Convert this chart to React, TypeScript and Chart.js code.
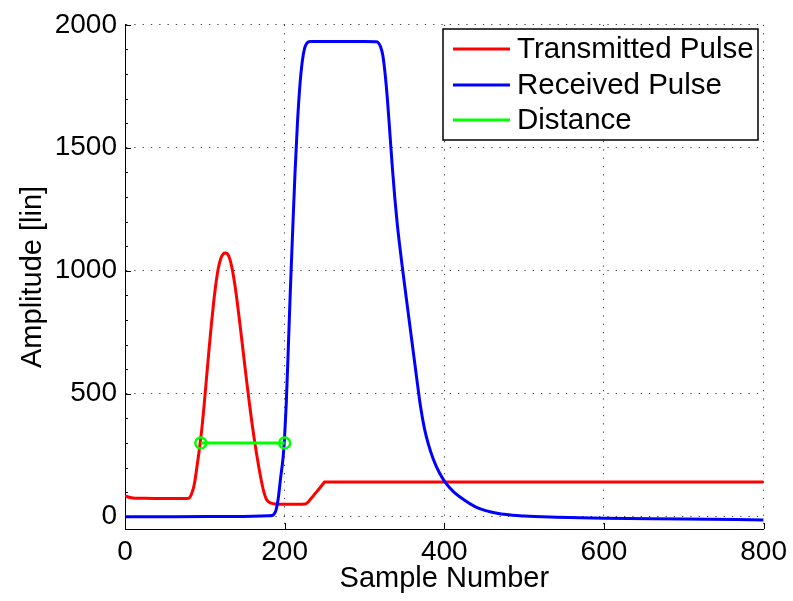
import React, { useEffect, useRef } from "react";
import { Chart, registerables } from "chart.js";

Chart.register(...registerables);

// Transmitted pulse (red)
const txSamples = [0, 4, 10, 20, 40, 60, 78, 80, 84, 87, 90, 93, 96, 99, 102, 105, 108, 111, 114, 117, 120, 123, 126, 129, 132, 135, 138, 141, 144, 147, 150, 153, 156, 159, 162, 165, 168, 171, 174, 177, 180, 184, 188, 200, 215, 226, 229, 232, 240, 246, 249, 250, 300, 400, 500, 600, 700, 800];
const txAmplitude = [86, 80, 76, 75, 74, 74, 74, 75, 98, 135, 200, 270, 350, 450, 560, 670, 775, 870, 950, 1012, 1050, 1068, 1072, 1066, 1040, 995, 935, 862, 782, 700, 617, 535, 456, 382, 314, 252, 195, 143, 100, 72, 60, 54, 52, 51, 51, 52, 58, 70, 101, 125, 137, 141, 141, 141, 141, 141, 141, 141];

// Received pulse (blue)
const rxSamples = [0, 60, 120, 160, 180, 184, 186, 189, 192, 195, 198, 200, 202, 204.5, 207, 210, 213, 216, 219, 222, 225, 228, 232, 260, 300, 314, 317, 320, 323, 326, 329, 332, 335, 338, 341, 344, 347, 350, 354, 358, 362, 366, 370, 375, 380, 386, 393, 401, 412, 425, 441, 466, 500, 541, 600, 700, 800];
const rxAmplitude = [0, 0, 1, 2, 4, 5, 8, 25, 75, 160, 240, 330, 460, 680, 910, 1160, 1400, 1600, 1750, 1850, 1905, 1926, 1932, 1932, 1932, 1931, 1928, 1912, 1875, 1795, 1685, 1550, 1415, 1295, 1192, 1105, 1025, 948, 848, 748, 648, 548, 452, 360, 295, 236, 184, 141, 100, 68, 37, 14, 3, -2, -6, -9, -13];

// Distance marker (green)
const distSamples = [95, 200];
const distAmplitude = [300, 300];

const seriesLabels = ["Transmitted Pulse", "Received Pulse", "Distance"];
const seriesColors = ["#ff0000", "#0000ff", "#00ff00"];

const xTickValues = [0, 200, 400, 600, 800];
const yTickValues = [0, 500, 1000, 1500, 2000];
const yMinorStep = 100;
const xRange = [0, 800];
const yRange = [-50, 2000];

const FONT = '"Liberation Sans", Arial, Helvetica, sans-serif';

const toPoints = (xs: number[], ys: number[]) => xs.map((x, i) => ({ x, y: ys[i] }));

// Inward tick marks on the left/bottom axes plus a boxed legend in the upper right
const axesAndLegend = {
  id: "axesAndLegend",
  afterDraw(chart: any) {
    const { ctx, chartArea, scales } = chart;
    const xs = scales.x;
    const ys = scales.y;
    ctx.save();
    ctx.strokeStyle = "#000";
    ctx.lineWidth = 1;
    ctx.beginPath();
    for (const v of xTickValues) {
      const px = Math.round(xs.getPixelForValue(v)) + 0.5;
      ctx.moveTo(px, chartArea.bottom);
      ctx.lineTo(px, chartArea.bottom - 6);
    }
    for (let v = 0; v <= yRange[1]; v += yMinorStep) {
      const major = yTickValues.includes(v);
      const py = Math.round(ys.getPixelForValue(v)) + 0.5;
      ctx.moveTo(chartArea.left, py);
      ctx.lineTo(chartArea.left + (major ? 6 : 3), py);
    }
    ctx.stroke();

    // legend
    const box = { left: 443, top: 29, right: 758, bottom: 140 };
    const rows = [49, 85, 120];
    ctx.fillStyle = "#fff";
    ctx.fillRect(box.left, box.top, box.right - box.left, box.bottom - box.top);
    ctx.lineWidth = 1.5;
    ctx.strokeStyle = "#000";
    ctx.strokeRect(box.left, box.top, box.right - box.left, box.bottom - box.top);
    ctx.font = `29.5px ${FONT}`;
    ctx.textBaseline = "middle";
    ctx.textAlign = "left";
    chart.data.datasets.forEach((ds: any, i: number) => {
      const y = rows[i];
      ctx.strokeStyle = ds.borderColor;
      ctx.lineWidth = 3;
      ctx.beginPath();
      ctx.moveTo(453, y);
      ctx.lineTo(510, y);
      ctx.stroke();
      ctx.fillStyle = "#000";
      ctx.fillText(ds.label, 517, y + 1);
    });
    ctx.restore();
  },
};

export default function App() {
  const canvasRef = useRef<HTMLCanvasElement | null>(null);

  useEffect(() => {
    if (!canvasRef.current) return;
    const gridStyle = {
      color: "#444",
      lineWidth: 1,
      drawTicks: false,
    };
    const plainLabel = (v: any) => String(v);
    const chart = new Chart(canvasRef.current, {
      type: "line",
      data: {
        datasets: [
          {
            label: seriesLabels[0],
            data: toPoints(txSamples, txAmplitude),
            borderColor: seriesColors[0],
            borderWidth: 3,
            pointRadius: 0,
            cubicInterpolationMode: "monotone",
            order: 3,
          },
          {
            label: seriesLabels[1],
            data: toPoints(rxSamples, rxAmplitude),
            borderColor: seriesColors[1],
            borderWidth: 3,
            pointRadius: 0,
            cubicInterpolationMode: "monotone",
            order: 2,
          },
          {
            label: seriesLabels[2],
            data: toPoints(distSamples, distAmplitude),
            borderColor: seriesColors[2],
            borderWidth: 3,
            pointRadius: 5.5,
            pointBorderWidth: 2.5,
            pointBorderColor: seriesColors[2],
            pointBackgroundColor: "rgba(0,0,0,0)",
            order: 1,
          },
        ],
      },
      options: {
        responsive: false,
        animation: false,
        devicePixelRatio: 1,
        layout: { padding: { top: 19, right: 26, left: 0, bottom: 0 } },
        plugins: {
          legend: { display: false },
          tooltip: { enabled: false },
        },
        scales: {
          x: {
            type: "linear",
            min: xRange[0],
            max: xRange[1],
            afterBuildTicks: (s: any) => {
              s.ticks = xTickValues.map((v) => ({ value: v }));
            },
            afterFit: (s: any) => {
              s.height = 72;
            },
            grid: gridStyle,
            border: { display: true, color: "#000", width: 1, dash: [1.3, 7] },
            ticks: {
              color: "#000",
              padding: 6,
              maxRotation: 0,
              callback: plainLabel,
              font: { family: FONT, size: 28 },
            },
            title: {
              display: true,
              text: "Sample Number",
              color: "#000",
              font: { family: FONT, size: 29 },
              padding: { top: 0, bottom: 5 },
            },
          },
          y: {
            type: "linear",
            min: yRange[0],
            max: yRange[1],
            afterBuildTicks: (s: any) => {
              s.ticks = yTickValues.map((v) => ({ value: v }));
            },
            afterFit: (s: any) => {
              s.width = 125;
            },
            grid: gridStyle,
            border: { display: true, color: "#000", width: 1, dash: [1.3, 7] },
            ticks: {
              color: "#000",
              padding: 8,
              callback: plainLabel,
              font: { family: FONT, size: 28 },
            },
            title: {
              display: true,
              text: "Amplitude [lin]",
              color: "#000",
              font: { family: FONT, size: 29 },
              padding: { top: 16, bottom: 0 },
            },
          },
        },
      },
      plugins: [axesAndLegend],
    } as any);
    return () => chart.destroy();
  }, []);

  return (
    <div style={{ position: "fixed", left: 0, top: 0, width: 793, height: 601, background: "#fff" }}>
      <canvas ref={canvasRef} width={793} height={601} style={{ display: "block" }} />
    </div>
  );
}
